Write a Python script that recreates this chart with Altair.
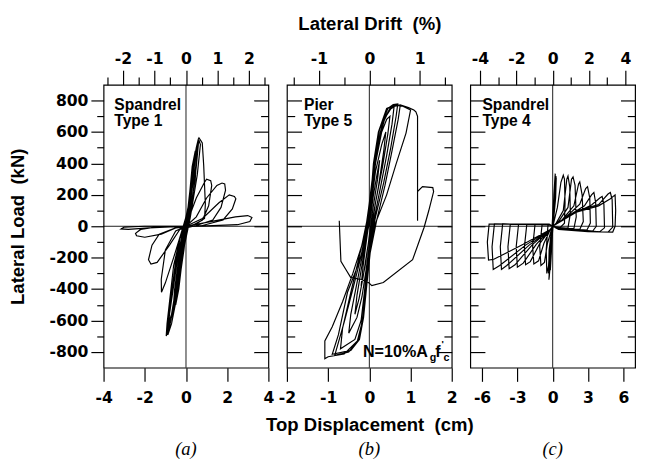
import altair as alt
import pandas as pd

# ---------------- data ----------------
# Panel (a) Spandrel Type 1 : top displacement (cm) / lateral load (kN)
a_disp = [0, 0.15, 0.3, 0.25, 0.05, -0.1, -0.3, -0.25, -0.05,
          0.1, 0.3, 0.45, 0.38, 0.1, -0.1, -0.35, -0.5, -0.42, -0.1,
          0.1, 0.35, 0.55, 0.5, 0.3, 0.05, -0.15, -0.45, -0.65, -0.55, -0.2,
          0.15, 0.4, 0.58, 0.62, 0.5, 0.2, -0.1, -0.4, -0.7, -0.88, -0.8, -0.4, -0.05,
          0.1, 0.35, 0.5, 0.65, 0.7, 0.55, 0.2, -0.2, -0.55, -0.8, -0.92, -0.85, -0.5, -0.1,
          0.05, 0.3, 0.5, 0.6, 0.63, 0.72, 0.79, 0.86, 0.94, 0.9, 0.5, 0.1, -0.2, -0.5, -0.75, -0.9, -0.96, -0.92, -0.85, -0.6, -0.2,
          0.2, 0.45, 0.55, 0.45, 0.1, -0.3, -0.7, -0.85, -0.7, -0.3, 0,
          0.1, 0.5, 0.9, 1.0, 1.2, 1.25, 1.1, 0.8, 0.3, -0.2, -0.6, -1.0, -1.19, -1.2, -1.0, -0.5, 0,
          0.5, 1.0, 1.5, 1.75, 1.88, 1.92, 1.7, 1.3, 0.5, -0.3, -0.8, -1.4, -1.7, -1.82, -1.65, -1.3, -0.5, 0,
          0.8, 1.6, 2.1, 2.35, 2.42, 2.25, 1.8, 0.8, -0.5, -1.2, -2.0, -2.4, -2.45, -2.2, -1.5, 0,
          1.2, 2.4, 3.0, 3.2, 3.1, 2.5, 1.0, -0.5, -1.8, -2.8, -3.15, -3.0, -2.0, 0]
a_load = [0, 180, 350, 250, 20, -150, -330, -220, -20,
          100, 380, 480, 320, 30, -120, -400, -500, -330, -30,
          80, 400, 520, 420, 150, 10, -150, -420, -580, -400, -60,
          150, 420, 540, 550, 380, 60, -120, -420, -620, -690, -560, -200, -10,
          80, 380, 500, 540, 520, 330, 50, -200, -480, -640, -680, -580, -220, -20,
          30, 350, 500, 555, 562, 545, 531, 387, 140, 50, 15, 0, -100, -400, -600, -680, -698, -620, -540, -250, -30,
          150, 430, 500, 300, 20, -250, -560, -620, -420, -80, 0,
          40, 180, 280, 300, 290, 260, 130, 40, 5, -30, -200, -360, -420, -337, -150, -30, 0,
          60, 180, 260, 275, 270, 230, 120, 40, 5, -20, -120, -230, -240, -213, -120, -50, -10, 0,
          50, 150, 200, 190, 175, 110, 40, 5, -10, -50, -70, -60, -45, -20, -5, 0,
          30, 60, 68, 56, 30, 10, 2, -3, -10, -20, -17, -5, 0, 0]

# Panel (b) Pier Type 5
b_disp = [0, 0.1, 0.2, 0.25, 0.2, 0.08, -0.02, -0.1, -0.2,
          -0.15, -0.05, 0.05, 0.15, 0.3, 0.4, 0.35, 0.22, 0.08, -0.05, -0.15, -0.25, -0.35,
          -0.3, -0.18, -0.05, 0.05, 0.15, 0.3, 0.42, 0.5, 0.45, 0.32, 0.15, 0.02, -0.08, -0.18, -0.3, -0.5,
          -0.45, -0.3, -0.15, -0.03, 0.07, 0.17, 0.32, 0.48, 0.6, 0.55, 0.42, 0.25, 0.08, -0.04, -0.12, -0.2, -0.35, -0.7,
          -0.65, -0.45, -0.25, -0.08, 0.04, 0.12, 0.25, 0.45, 0.58, 0.69, 0.65, 0.52, 0.35, 0.15, 0.0, -0.08, -0.15, -0.25, -0.5, -0.84,
          -0.6, -0.4, -0.2, -0.05, 0.06, 0.16, 0.3, 0.5, 0.65, 0.75, 0.7, 0.55, 0.38, 0.18, 0.02, -0.06, -0.14, -0.24, -0.45, -0.9,
          -0.75, -0.53, -0.33, -0.13, -0.02, 0.04, 0.1, 0.22, 0.42, 0.6, 0.8, 1.0, 0.89, 0.65, 0.42, 0.14, -0.02, -0.09, -0.17, -0.29, -0.61, -1.0, -1.08, -1.08,
          -0.9, -0.65, -0.4, -0.18, -0.04, 0.06, 0.18, 0.38, 0.55, 0.75, 0.95, 1.08, 1.13, 1.17, 1.17,
          1.17, 1.29, 1.54, 1.56, 1.44, 1.33, 1.05, 0.34, 0.06, -0.02, -0.21, -0.45, -0.57, -0.69, -0.73]
b_load = [0, 200, 350, 420, 300, 100, -100, -250, -380,
          -250, -50, 150, 350, 520, 600, 480, 250, 50, -150, -320, -460, -560,
          -440, -250, -40, 180, 400, 600, 680, 700, 590, 380, 150, -80, -280, -450, -580, -680,
          -560, -360, -160, 40, 260, 480, 660, 740, 760, 650, 450, 220, 0, -220, -420, -600, -720, -780,
          -650, -420, -200, 0, 220, 430, 620, 750, 775, 779, 700, 500, 280, 60, -150, -350, -560, -720, -800, -822,
          -600, -400, -190, 20, 240, 450, 640, 750, 775, 770, 680, 480, 260, 40, -170, -370, -580, -720, -790, -815,
          -690, -420, -285, -130, -6, 200, 401, 600, 750, 770, 765, 740, 593, 397, 200, 14, -192, -399, -606, -730, -812, -830, -843, -730,
          -640, -480, -300, -120, 60, 280, 500, 690, 760, 772, 755, 740, 728, 700, 35,
          221, 252, 246, 221, 97, -6, -213, -358, -378, -358, -337, -327, -275, -223, 35]

# Panel (c) Spandrel Type 4
c_disp = [0, 0.1, 0.15, 0.1, 0, -0.1, -0.2, -0.1, 0,
          0.1, 0.2, 0.22, 0.15, 0, -0.15, -0.3, -0.25, 0,
          0.15, 0.3, 0.25, 0.05, -0.2, -0.35, -0.3, -0.05,
          0.12, 0.25, 0.28, 0.2, 0.02, -0.12, -0.28, -0.32, -0.2, 0,
          0.05, 0.4, 0.7, 0.9, 1.0, 1.05, 1.0, 0.6, 0.1,
          -0.1, -0.4, -0.55, -0.5, -0.35, -0.2, 0,
          0.3, 0.9, 1.2, 1.3, 1.45, 1.5, 1.3, 0.5, 0,
          -0.3, -0.9, -1.1, -1.0, -0.7, -0.45, -0.1, 0,
          0.5, 1.3, 1.6, 1.73, 1.9, 2.0, 1.8, 0.6, 0,
          -0.3, -1.5, -1.7, -1.6, -1.2, -0.75, -0.2, 0,
          0.8, 1.8, 2.2, 2.3, 2.5, 2.6, 2.3, 0.8, 0,
          -0.3, -2.2, -2.4, -2.3, -1.9, -1.1, -0.2, 0,
          1.0, 2.3, 2.8, 2.96, 3.15, 3.2, 2.9, 1.0, 0,
          -0.3, -2.9, -3.1, -3.0, -2.5, -1.4, -0.2, 0,
          1.2, 2.7, 3.3, 3.5, 3.65, 3.7, 3.4, 1.2, 0,
          -0.3, -3.6, -3.8, -3.7, -3.2, -1.7, -0.2, 0,
          1.5, 3.3, 4.0, 4.2, 4.35, 4.4, 4.0, 1.5, 0,
          -0.3, -4.25, -4.45, -4.35, -3.9, -2.0, -0.2, 0,
          2.0, 3.9, 4.7, 4.9, 5.05, 5.1, 4.7, 2.0, 0,
          -0.3, -4.95, -5.15, -5.05, -4.5, -2.3, -0.2, 0,
          2.0, 3.9, 4.9, 5.3, 5.35, 5.3, 5.1, 3.0, 0.5, 0,
          -0.3, -5.4, -5.55, -5.45, -5.0, -2.5, -0.2, 0]
c_load = [0, 150, 250, 100, 0, -150, -280, -80, 0,
          200, 320, 335, 150, 10, -200, -327, -200, 0,
          250, 310, 180, 20, -200, -300, -150, 0,
          220, 300, 320, 200, 10, -180, -300, -340, -150, 0,
          10, 120, 280, 325, 300, 150, 20, -10, -5,
          5, 8, -150, -300, -250, -80, 0,
          20, 100, 300, 320, 250, 80, -10, -15, 0,
          8, 10, -130, -250, -230, -110, -20, 0,
          30, 120, 300, 314, 260, 60, -15, -15, 0,
          10, 12, -130, -240, -220, -110, -20, 0,
          40, 130, 270, 283, 200, 30, -20, -15, 0,
          10, 12, -130, -245, -225, -110, -20, 0,
          50, 140, 240, 252, 180, 20, -25, -15, 0,
          12, 13, -130, -260, -235, -115, -20, 0,
          60, 130, 200, 215, 150, 0, -30, -15, 0,
          12, 14, -130, -270, -245, -115, -20, 0,
          70, 135, 180, 190, 140, -10, -35, -20, 0,
          12, 15, -130, -275, -250, -120, -20, 0,
          97, 138, 205, 215, 170, -5, -38, -25, 0,
          13, 15, -130, -275, -250, -120, -20, 0,
          90, 130, 175, 200, 100, 0, -37, -35, -20, 0,
          14, 14, -100, -215, -210, -115, -20, 0]

# axes
y_ticks = [-800, -700, -600, -500, -400, -300, -200, -100, 0, 100, 200, 300, 400, 500, 600, 700, 800]
a_xticks = [-4, -3, -2, -1, 0, 1, 2, 3, 4]
b_xticks = [-2, -1.5, -1, -0.5, 0, 0.5, 1, 1.5, 2]
c_xticks = [-6, -4.5, -3, -1.5, 0, 1.5, 3, 4.5, 6]
a_drift_ticks = [-2.5, -2, -1.5, -1, -0.5, 0, 0.5, 1, 1.5, 2, 2.5]
b_drift_ticks = [-1.5, -1, -0.5, 0, 0.5, 1, 1.5]
c_drift_ticks = [-4, -3, -2, -1, 0, 1, 2, 3, 4]
a_xdom, b_xdom, c_xdom = [-4, 4], [-2, 2], [-7, 7]
a_ddom, b_ddom, c_ddom = [-2.616, 2.616], [-1.635, 1.635], [-4.533, 4.533]
panel_names = [["Spandrel", "Type 1"], ["Pier", "Type 5"], ["Spandrel", "Type 4"]]
panel_tags = ["(a)", "(b)", "(c)"]

# ---------------- styling ----------------
W, H = 169, 290
BLK = "#000000"
LFONT = "DejaVu Sans"
TFONT = "Liberation Sans"

common = dict(domain=False, grid=False, tickColor=BLK, tickWidth=1.2,
              labelFont=LFONT, labelFontSize=16, labelFontWeight="bold", labelColor=BLK,
              labelFlush=False, labelOverlap=False, labelBound=False,
              titleFont=TFONT, titleFontSize=19, titleFontWeight="bold", titleColor=BLK)


def is_major(m):
    return f"abs(datum.value % {m}) < 1e-6"


def tsize(m, big, small):
    return alt.ExprRef(expr=f"{is_major(m)} ? {big} : {small}")


def lab(m):
    return f"{is_major(m)} ? '' + datum.value : ''"


one = pd.DataFrame({"k": [0]})


def text_mark(text, x, y, size, font=TFONT, weight="bold", style="normal", align="left",
              baseline="alphabetic", line_height=17):
    return alt.Chart(one).mark_text(text=text, fontSize=size, font=font, fontWeight=weight,
                                    fontStyle=style, color=BLK, align=align, baseline=baseline,
                                    lineHeight=line_height).encode(x=alt.value(x), y=alt.value(y))


def panel(disp, load, xdom, xticks, xmod, ddom, dticks, dmod, first, bottom_title, top_title,
          name, name_xy, name_lh, tag, extra):
    df = pd.DataFrame({"disp": disp, "load": load, "step": list(range(len(disp)))})
    xs = alt.Scale(domain=xdom, nice=False, zero=False)
    ys = alt.Scale(domain=[-900, 900], nice=False, zero=False)
    xaxis = alt.Axis(orient="bottom", values=xticks, tickSize=tsize(xmod, 14, 7),
                     labelExpr=lab(xmod), labelPadding=9, title=bottom_title, titlePadding=10, **common)
    if first:
        yaxis = alt.Axis(orient="left", values=y_ticks, tickSize=tsize(200, 13, 7),
                         labelExpr=lab(200), labelPadding=3, title="Lateral Load\u00a0 (kN)",
                         titlePadding=22, **common)
    else:
        yaxis = alt.Axis(orient="left", values=y_ticks, tickSize=tsize(200, -15, -8),
                         labels=False, title=None, **common)
    raxis = alt.Axis(orient="right", values=y_ticks, tickSize=tsize(200, -15, -8),
                     labels=False, title=None, **common)

    line = alt.Chart(df).mark_line(color=BLK, strokeWidth=1.2).encode(
        x=alt.X("disp:Q", scale=xs, axis=xaxis),
        y=alt.Y("load:Q", scale=ys, axis=yaxis),
        order="step:Q")
    zero_v = alt.Chart(one).mark_rule(color=BLK, strokeWidth=0.9).encode(
        x=alt.XDatum(0, type="quantitative"))
    zero_h = alt.Chart(one).mark_rule(color=BLK, strokeWidth=0.9).encode(
        y=alt.YDatum(0, type="quantitative", axis=None))
    right = alt.Chart(df).mark_point(opacity=0).encode(
        y=alt.Y("load:Q", scale=ys, axis=raxis))
    texts = [text_mark(name, name_xy[0], name_xy[1], 16, line_height=name_lh),
             text_mark(tag, W / 2, 374, 19, font="Liberation Serif", weight="normal",
                       style="italic", align="center", baseline="middle")] + extra
    inner = alt.layer(line, zero_v, zero_h, right, *texts).resolve_axis(y="independent")

    ddf = pd.DataFrame({"drift": ddom})
    drift = alt.Chart(ddf).mark_point(opacity=0).encode(
        x=alt.X("drift:Q", scale=alt.Scale(domain=ddom, nice=False, zero=False),
                axis=alt.Axis(orient="top", values=dticks, tickSize=tsize(dmod, 15, 8),
                              labelExpr=lab(dmod), labelPadding=4, title=top_title,
                              titlePadding=18, **common)))
    return alt.layer(inner, drift).resolve_scale(x="independent").resolve_axis(
        y="independent").properties(width=W, height=H)


n_texts = [
    text_mark("N=10%A", 78, 279, 16.5),
    text_mark("g", 146.5, 283, 11),
    text_mark("f", 152, 279, 16.5),
    text_mark("'", 158.5, 269, 10),
    text_mark("c", 160.5, 283, 11),
]

pa = panel(a_disp, a_load, a_xdom, a_xticks, 2, a_ddom, a_drift_ticks, 1, True, None, None,
           panel_names[0], (11, 25.5), 17, panel_tags[0], [])
pb = panel(b_disp, b_load, b_xdom, b_xticks, 1, b_ddom, b_drift_ticks, 1, False,
           "Top Displacement\u00a0 (cm)", "Lateral Drift\u00a0 (%)",
           panel_names[1], (17.5, 26), 16, panel_tags[1], n_texts)
pc = panel(c_disp, c_load, c_xdom, c_xticks, 3, c_ddom, c_drift_ticks, 2, False, None, None,
           panel_names[2], (12.5, 25.5), 16.5, panel_tags[2], [])

chart = alt.hconcat(pa, pb, pc, spacing=19, bounds="flush").properties(
    padding={"left": 0, "right": 0, "top": 0, "bottom": 0}
).configure_view(stroke=BLK, strokeWidth=1.2)

chart.save("out.html", embed_options={"renderer": "svg", "actions": False})
